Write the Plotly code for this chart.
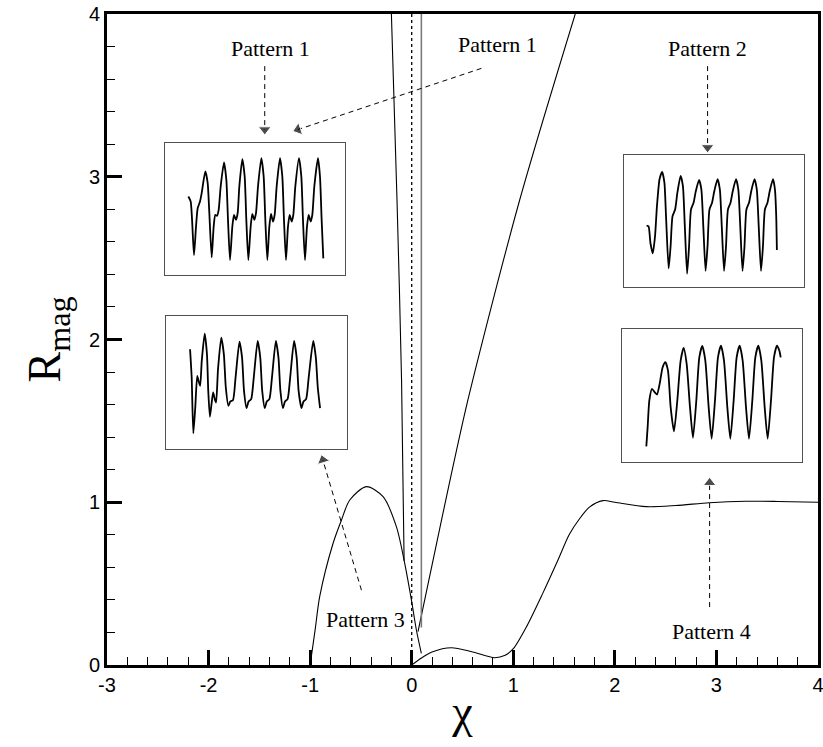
import plotly.graph_objects as go

# ---- main curves: R_mag versus chi ----
hump_x = [-1.0, -0.95, -0.906, -0.774, -0.692, -0.61, -0.446, -0.282, -0.151, -0.069, -0.003, 0.046, 0.095]
hump_y = [0.0, 0.22, 0.42, 0.748, 0.89, 1.014, 1.096, 1.034, 0.85, 0.625, 0.40, 0.215, 0.072]

low_x = [0.0, 0.1, 0.2, 0.39, 0.6, 0.817, 0.92, 1.0, 1.13, 1.29, 1.44, 1.55, 1.654, 1.75, 1.883, 2.0, 2.31, 2.6, 2.93, 3.29, 3.6, 4.0]
low_y = [0.0, 0.045, 0.08, 0.106, 0.08, 0.045, 0.06, 0.10, 0.235, 0.44, 0.645, 0.80, 0.90, 0.97, 1.01, 1.0, 0.973, 0.98, 0.997, 1.006, 1.005, 1.0]

rise_x = [0.062, 0.3, 0.554, 1.063, 1.61]
rise_y = [0.205, 0.91, 1.63, 2.857, 4.0]

steep_x = [-0.2, -0.145, -0.10, -0.075]
steep_y = [4.0, 2.86, 1.75, 0.64]

asym_x = [0.095, 0.095]
asym_y = [0.23, 4.0]

axis0_x = [0.0, 0.0]
axis0_y = [0.0, 4.0]

# ---- inset time signals ----
p1a_t = [7.0, 7.7, 8.7, 9.3, 9.8, 10.5, 11.0, 12.1, 12.8, 13.3, 14.0, 14.6, 15.1, 15.6, 16.1, 16.7, 17.7, 18.4, 18.9, 19.5,
         20.2, 20.7, 21.3, 21.8, 22.3, 23.2, 23.9, 24.4, 25.0, 25.7, 26.2, 26.8, 27.3, 27.9, 28.9, 29.6, 30.1, 30.7,
         31.3, 31.8, 32.4, 32.9, 33.5, 34.5, 35.2, 35.7, 36.3, 36.9, 37.4, 38.0, 38.5, 39.1, 40.2, 40.9, 41.4, 42.0,
         42.6, 43.1, 43.7, 44.2, 44.8, 45.9, 46.5, 47.0, 47.5]
p1a_v = [2.35, 2.20, 0.60, 1.45, 2.00, 2.20, 2.45, 3.10, 2.75, 1.85, 0.53, 1.45, 1.80, 1.77, 1.95, 2.65, 3.37, 2.85, 1.65, 0.45,
         1.45, 1.80, 1.65, 1.85, 2.65, 3.47, 2.95, 1.65, 0.45, 1.45, 1.83, 1.65, 1.85, 2.65, 3.50, 2.95, 1.65, 0.45,
         1.45, 1.83, 1.60, 1.80, 2.65, 3.50, 2.95, 1.65, 0.45, 1.45, 1.80, 1.60, 1.80, 2.65, 3.50, 2.95, 1.65, 0.45,
         1.45, 1.80, 1.60, 1.80, 2.65, 3.50, 2.95, 1.65, 0.50]

p3_t = [7.4, 7.9, 8.4, 9.0, 9.6, 10.0, 10.5, 11.0, 11.9, 12.6, 13.0, 13.5, 14.0, 14.5, 15.0, 15.4, 16.0, 17.0, 17.8, 18.4,
        19.2, 19.8, 20.6, 21.4, 22.6, 23.4, 24.0, 24.8, 25.4, 26.2, 27.0, 28.2, 29.0, 29.6, 30.4, 31.0, 31.8, 32.6,
        33.8, 34.6, 35.2, 36.0, 36.6, 37.4, 38.2, 39.4, 40.2, 40.8, 41.7, 42.3, 43.1, 43.9, 45.3, 46.1, 46.7, 47.4]
p3_v = [3.00, 2.15, 0.47, 1.25, 2.20, 2.05, 1.90, 2.65, 3.47, 2.85, 1.75, 0.97, 1.35, 1.70, 1.50, 1.40, 2.40, 3.35, 2.85, 1.85,
        1.30, 1.43, 1.47, 2.15, 3.23, 2.75, 1.75, 1.23, 1.43, 1.50, 2.15, 3.25, 2.75, 1.75, 1.23, 1.43, 1.50, 2.15,
        3.25, 2.75, 1.75, 1.23, 1.43, 1.50, 2.15, 3.25, 2.75, 1.75, 1.23, 1.43, 1.50, 2.15, 3.25, 2.75, 1.85, 1.23]

p2_t = [7.0, 7.6, 8.2, 8.9, 9.6, 10.2, 11.0, 11.8, 12.5, 13.0, 13.8, 14.4, 15.0, 15.8, 16.5, 17.5, 18.2, 18.8, 19.5,
        20.1, 20.7, 21.5, 22.2, 23.2, 23.9, 24.5, 25.2, 25.8, 26.4, 27.2, 27.9, 28.9, 29.6, 30.2, 30.9,
        31.5, 32.1, 32.9, 33.6, 34.6, 35.3, 35.9, 36.6, 37.2, 37.8, 38.6, 39.3, 40.3, 41.0, 41.6, 42.3,
        42.9, 43.5, 44.3, 45.0, 46.0, 46.6, 47.0, 47.2]
p2_v = [1.82, 1.80, 1.30, 1.00, 1.50, 2.40, 3.20, 3.42, 3.10, 2.10, 0.55, 1.20, 2.10, 2.30, 2.80, 3.30, 3.00, 1.80, 0.40,
        1.20, 2.30, 2.50, 2.85, 3.18, 2.90, 1.80, 0.48, 1.20, 2.30, 2.50, 2.85, 3.20, 2.90, 1.80, 0.48,
        1.20, 2.30, 2.50, 2.85, 3.20, 2.90, 1.80, 0.48, 1.20, 2.30, 2.50, 2.85, 3.20, 2.90, 1.80, 0.48,
        1.20, 2.30, 2.50, 2.85, 3.20, 2.90, 2.10, 1.10]

p4_t = [7.3, 7.7, 8.2, 9.0, 9.8, 10.5, 11.3, 12.2, 13.0, 13.8, 14.6, 15.6, 16.6, 17.6, 18.5, 19.4, 20.4, 21.3,
        22.3, 23.2, 24.1, 25.0, 26.0, 26.9, 27.9, 28.8, 29.7, 30.6, 31.6, 32.5, 33.5, 34.4, 35.3, 36.2, 37.2, 38.1,
        39.1, 40.0, 40.9, 41.8, 42.8, 43.7, 44.7, 45.6, 46.5, 47.2, 47.6]
p4_v = [0.47, 1.05, 1.85, 2.20, 2.10, 2.03, 2.35, 2.85, 3.00, 2.75, 1.65, 0.92, 1.85, 3.05, 3.43, 2.95, 1.65, 0.73,
        1.85, 3.15, 3.49, 3.05, 1.65, 0.70, 1.85, 3.15, 3.50, 3.05, 1.65, 0.70, 1.85, 3.15, 3.50, 3.05, 1.65, 0.70,
        1.85, 3.15, 3.50, 3.05, 1.65, 0.70, 1.85, 3.15, 3.50, 3.35, 3.15]

x_ticks = [-3, -2, -1, 0, 1, 2, 3, 4]
x_tick_text = ["-3", "-2", "-1", "0", "1", "2", "3", "4"]
y_ticks = [0, 1, 2, 3, 4]
y_tick_text = ["0", "1", "2", "3", "4"]

# pattern labels and their dashed pointers (tail -> head, data coordinates)
labels = [
    ("Pattern 1", -1.393, 3.79),
    ("Pattern 1", 0.84, 3.81),
    ("Pattern 2", 2.913, 3.79),
    ("Pattern 3", -0.455, 0.277),
    ("Pattern 4", 2.95, 0.203),
]
pointers = [
    (-1.447, 3.68, -1.447, 3.29),
    (0.686, 3.666, -1.12, 3.29),
    (2.913, 3.68, 2.913, 3.18),
    (-0.495, 0.46, -0.875, 1.26),
    (2.933, 0.356, 2.933, 1.12),
]

fig = go.Figure()

main_line = dict(color="black", width=1.1, shape="spline", smoothing=0.8)
for xs, ys in [(hump_x, hump_y), (low_x, low_y), (rise_x, rise_y), (steep_x, steep_y)]:
    fig.add_trace(go.Scatter(x=xs, y=ys, mode="lines", line=main_line, showlegend=False, hoverinfo="skip"))

fig.add_trace(go.Scatter(x=asym_x, y=asym_y, mode="lines", line=dict(color="#7a7a7a", width=1.6),
                         showlegend=False, hoverinfo="skip"))
fig.add_trace(go.Scatter(x=axis0_x, y=axis0_y, mode="lines", line=dict(color="black", width=1.3, dash="dot"),
                         showlegend=False, hoverinfo="skip"))

for tx, ty, hx, hy in pointers:
    fig.add_trace(go.Scatter(
        x=[tx, hx], y=[ty, hy], mode="lines+markers",
        line=dict(color="black", width=1, dash="5px,4px"),
        marker=dict(symbol="triangle-up", size=[0, 11], color="black", angleref="previous"),
        showlegend=False, hoverinfo="skip"))

for text, x, y in labels:
    fig.add_annotation(x=x, y=y, text=text, showarrow=False,
                       font=dict(family="Liberation Serif", size=22, color="black"))

# inset panels with the time signals
insets = [
    (p1a_t, p1a_v, [0.0816, 0.3347], [0.599, 0.8018], [0, 54], [0, 3.95]),
    (p3_t, p3_v, [0.083, 0.3376], [0.3318, 0.536], [0, 55.7], [0, 4.0]),
    (p2_t, p2_v, [0.727, 0.980], [0.5806, 0.7834], [0, 55.5], [0, 3.92]),
    (p4_t, p4_v, [0.7243, 0.9775], [0.3118, 0.5161], [0, 54], [0, 4.0]),
]
inset_axis = dict(showline=True, mirror=True, linecolor="#505050", linewidth=1, showticklabels=False,
                  ticks="", showgrid=False, zeroline=False, fixedrange=True, automargin=False)
for i, (t, v, dx, dy, rx, ry) in enumerate(insets, start=2):
    fig.add_trace(go.Scatter(x=t, y=v, mode="lines", xaxis=f"x{i}", yaxis=f"y{i}",
                             line=dict(color="black", width=1.8, shape="spline", smoothing=0.6),
                             showlegend=False, hoverinfo="skip"))
    fig.layout[f"xaxis{i}"] = dict(domain=dx, range=rx, anchor=f"y{i}", **inset_axis)
    fig.layout[f"yaxis{i}"] = dict(domain=dy, range=ry, anchor=f"x{i}", **inset_axis)

axis_common = dict(showline=True, mirror=True, linecolor="black", linewidth=3, ticks="inside",
                   tickcolor="black", tickwidth=3, ticklen=15, showgrid=False, zeroline=False,
                   automargin=False, ticklabeloverflow="allow",
                   tickfont=dict(family="Liberation Sans", size=20, color="black"),
                   minor=dict(dtick=0.2, ticks="inside", ticklen=8, tickwidth=1.3, tickcolor="black", showgrid=False))

fig.update_layout(
    width=823, height=747,
    margin=dict(l=107, r=5, t=14, b=82),
    paper_bgcolor="white", plot_bgcolor="white",
    xaxis=dict(range=[-3, 4], tickvals=x_ticks, ticktext=x_tick_text,
               title=dict(text="χ", font=dict(family="Liberation Serif", size=46, color="black"), standoff=0),
               **axis_common),
    yaxis=dict(range=[0, 4], tickvals=y_ticks, ticktext=y_tick_text,
               title=dict(text="R<sub>mag</sub>", font=dict(family="Liberation Serif", size=46, color="black"), standoff=14),
               **axis_common),
)

fig.write_html("out.html")
